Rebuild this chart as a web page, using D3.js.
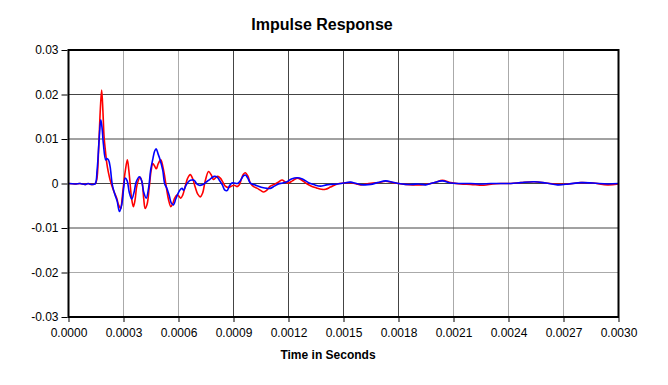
<!DOCTYPE html>
<html>
<head>
<meta charset="utf-8">
<script src="https://cdn.jsdelivr.net/npm/d3@7"></script>
<style>
  body { margin: 0; background: #fff; }
  text { font-family: "Liberation Sans", Arial, sans-serif; }
</style>
</head>
<body>
<div id="chart"></div>
<script>
// time in microseconds, amplitude
const redSeries = [
  [0, 0], [36, -0.0001], [63, 0], [90, -0.0002], [107, 0], [123, -0.0002], [145, -0.0001],
  [154, 0.0008], [164, 0.0075], [174, 0.017], [181, 0.021], [188, 0.016], [194, 0.0105],
  [202, 0.0071], [209, 0.0045], [217, 0.0026], [227, 0.0008], [245, -0.0015], [263, -0.0033],
  [273, -0.0048], [285, -0.0056], [292, -0.0035], [299, -0.0008], [309, 0.0026], [321, 0.0053],
  [329, 0.003], [336, 0], [344, -0.0033], [354, -0.0052], [363, -0.0037], [374, -0.0003],
  [391, 0.0014], [402, 0.0001], [410, -0.0033], [418, -0.0056], [429, -0.0046], [440, -0.001],
  [451, 0.003], [460, 0.0045], [470, 0.0039], [479, 0.0033], [489, 0.0044], [503, 0.0053],
  [514, 0.0039], [525, 0.0015], [535, -0.0012], [546, -0.0037], [558, -0.0052], [568, -0.0046],
  [579, -0.0033], [591, -0.0026], [601, -0.0028], [612, -0.0033], [623, -0.0026], [637, -0.0006],
  [650, 0.0012], [664, 0.002], [678, 0.001], [691, -0.0008], [705, -0.0024], [719, -0.003],
  [732, -0.0021], [746, 0.0006], [764, 0.0027], [779, 0.0019], [791, 0.0009], [803, 0.0013],
  [814, 0.0016], [828, 0.0012], [842, 0.0003], [855, -0.0006], [872, -0.0009], [888, -0.0006],
  [904, -0.0004], [919, -0.0007], [932, -0.0003], [943, 0.001], [954, 0.0021], [965, 0.0024],
  [978, 0.0017], [992, 0.0001], [1010, -0.0007], [1030, -0.0011], [1046, -0.0015], [1065, -0.0019],
  [1082, -0.0015], [1101, -0.0006], [1123, -0.0002], [1145, 0.0003], [1165, 0.0008], [1183, 0.0003],
  [1200, 0.0001], [1221, 0.0006], [1247, 0.0012], [1271, 0.0008], [1298, 0], [1325, -0.0006],
  [1353, -0.001], [1380, -0.0013], [1402, -0.0013], [1429, -0.0008], [1466, -0.0001], [1500, 0.0001],
  [1538, 0.0002], [1571, -0.0001], [1593, -0.0003], [1626, -0.0001], [1659, 0.0001], [1691, 0.0002],
  [1730, 0.0005], [1768, 0.0002], [1801, 0], [1839, -0.0002], [1877, -0.0003], [1921, -0.0003],
  [1965, -0.0001], [2003, 0.0003], [2039, 0.0007], [2085, 0.0002], [2139, -0.0001], [2194, -0.0002],
  [2265, -0.0004], [2314, -0.0001], [2358, 0], [2413, 0], [2467, 0.0002], [2540, 0.0004],
  [2604, 0.0001], [2668, -0.0002], [2730, -0.0001], [2795, 0.0002], [2861, 0.0001], [2941, -0.0003],
  [3000, -0.0001]
];

const blueSeries = [
  [0, 0], [36, -0.0001], [63, 0], [90, -0.0002], [107, 0], [123, -0.0002], [145, -0.0001],
  [156, 0.003], [167, 0.0098], [176, 0.0143], [183, 0.0125], [190, 0.009], [203, 0.0053],
  [210, 0.0056], [218, 0.0053], [227, 0.0038], [239, -0.0003], [254, -0.0026], [265, -0.0039],
  [278, -0.0063], [291, -0.0046], [301, -0.001], [309, 0.0012], [320, 0.0006], [331, -0.0019],
  [345, -0.0035], [358, -0.0019], [369, 0.0003], [387, 0.0015], [399, 0.0006], [410, -0.0019],
  [424, -0.0033], [437, -0.001], [448, 0.003], [459, 0.0053], [470, 0.0073], [478, 0.0078],
  [489, 0.0066], [500, 0.0053], [514, 0.003], [525, -0.0001], [536, -0.001], [550, -0.0028],
  [561, -0.0044], [573, -0.0048], [585, -0.0035], [596, -0.0024], [607, -0.0015], [619, -0.0011],
  [628, -0.0015], [642, -0.0003], [659, 0.0006], [673, 0.0008], [686, 0.0007], [700, -0.0001],
  [713, -0.0004], [730, -0.0003], [751, 0.0003], [773, 0.001], [795, 0.0016], [809, 0.0015],
  [822, 0.0008], [839, -0.0003], [853, -0.0015], [865, -0.0016], [877, -0.0006], [891, 0.0001],
  [904, 0.0001], [921, 0], [937, 0.0006], [954, 0.0017], [965, 0.0019], [978, 0.0012],
  [992, 0.0001], [1014, -0.0003], [1036, -0.0006], [1057, -0.0009], [1083, -0.0011], [1101, -0.0011],
  [1123, -0.0006], [1145, -0.0001], [1167, 0.0001], [1192, 0.0004], [1216, 0.001], [1247, 0.0013],
  [1276, 0.001], [1309, 0.0002], [1342, -0.0003], [1374, -0.0006], [1407, -0.0003], [1434, -0.0002],
  [1466, -0.0001], [1500, 0.0001], [1538, 0.0003], [1571, 0], [1611, -0.0003], [1648, -0.0002],
  [1686, 0.0002], [1730, 0.0006], [1768, 0.0003], [1801, 0], [1839, -0.0002], [1877, -0.0002],
  [1910, -0.0001], [1948, -0.0003], [1986, 0.0001], [2039, 0.0006], [2085, 0.0001], [2139, 0],
  [2194, 0], [2249, -0.0001], [2303, 0], [2358, 0], [2413, 0], [2467, 0.0002], [2540, 0.0004],
  [2604, 0.0001], [2668, -0.0003], [2730, -0.0001], [2795, 0.0002], [2861, 0.0001], [2941, -0.0001],
  [3000, 0]
];

const xTicks = [0, 0.0003, 0.0006, 0.0009, 0.0012, 0.0015, 0.0018, 0.0021, 0.0024, 0.0027, 0.003];
const yTicks = [0.03, 0.02, 0.01, 0, -0.01, -0.02, -0.03];

const width = 668;
const height = 385;
const plot = {left: 68.5, right: 618.5, top: 50, bottom: 317};

const svg = (d3.select("#chart").append("svg")
             .attr("width", width)
             .attr("height", height));

const x = (d3.scaleLinear()
           .domain([0, 0.003])
           .range([plot.left, plot.right]));

const y = (d3.scaleLinear()
           .domain([-0.03, 0.03])
           .range([plot.bottom, plot.top]));

// gridlines: the source image shows some darker than others
const darkX = (d) => d > 0.0008 && d < 0.0019;
const darkY = (d) => d > -0.015;

svg.append("g")
  .selectAll("line")
  .data(xTicks.slice(1, -1))
  .join("line")
  .attr("x1", (d) => x(d)).attr("x2", (d) => x(d))
  .attr("y1", plot.top).attr("y2", plot.bottom)
  .attr("stroke", (d) => darkX(d) ? "#444" : "#aaa")
  .attr("stroke-width", 1);

svg.append("g")
  .selectAll("line")
  .data(yTicks.slice(1, -1))
  .join("line")
  .attr("x1", plot.left).attr("x2", plot.right)
  .attr("y1", (d) => y(d)).attr("y2", (d) => y(d))
  .attr("stroke", (d) => darkY(d) ? "#444" : "#aaa")
  .attr("stroke-width", 1);

const line = (d3.line()
              .x((d) => x(d[0] * 1e-6))
              .y((d) => y(d[1]))
              .curve(d3.curveCatmullRom.alpha(0.5)));

svg.append("path")
  .datum(redSeries)
  .attr("fill", "none")
  .attr("stroke", "#ff0000")
  .attr("stroke-width", 1.6)
  .attr("d", line);

svg.append("path")
  .datum(blueSeries)
  .attr("fill", "none")
  .attr("stroke", "#0000ff")
  .attr("stroke-width", 1.6)
  .attr("d", line);

svg.append("rect")
  .attr("x", plot.left).attr("y", plot.top)
  .attr("width", plot.right - plot.left)
  .attr("height", plot.bottom - plot.top)
  .attr("fill", "none")
  .attr("stroke", "#000")
  .attr("stroke-width", 2);

const yAxis = (d3.axisLeft(y)
               .tickValues(yTicks)
               .tickSize(6)
               .tickSizeOuter(0)
               .tickFormat((d) => d === 0 ? "0" : d.toFixed(2)));

const gy = svg.append("g")
  .attr("transform", `translate(${plot.left - 1},0)`)
  .call(yAxis);
gy.select(".domain").remove();
gy.selectAll("text").attr("font-size", 12).attr("fill", "#000").attr("x", -9);

const xAxis = (d3.axisBottom(x)
               .tickValues(xTicks)
               .tickSize(4)
               .tickSizeOuter(0)
               .tickFormat(d3.format(".4f")));

const gx = svg.append("g")
  .attr("transform", `translate(0,${plot.bottom + 1})`)
  .call(xAxis);
gx.select(".domain").remove();
gx.selectAll("text").attr("font-size", 12).attr("fill", "#000").attr("y", 10);

svg.append("text")
  .attr("x", 322).attr("y", 30)
  .attr("text-anchor", "middle")
  .attr("font-size", 16)
  .attr("font-weight", "bold")
  .text("Impulse Response");

svg.append("text")
  .attr("x", 328).attr("y", 359)
  .attr("text-anchor", "middle")
  .attr("font-size", 12)
  .attr("font-weight", "bold")
  .text("Time in Seconds");
</script>
</body>
</html>
